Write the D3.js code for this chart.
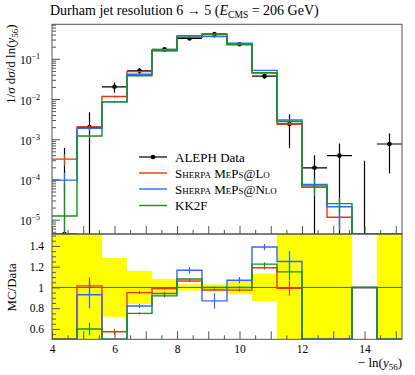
<!DOCTYPE html>
<html>
<head>
<meta charset="utf-8">
<script src="https://cdn.jsdelivr.net/npm/d3@7"></script>
<style>
  body { margin: 0; background: #fff; }
  svg text { font-family: 'Liberation Serif', 'DejaVu Serif', serif; fill: #000; }
</style>
</head>
<body>
<script>
'use strict'

const RED    = '#EE3311'
const BLUE   = '#3366FF'
const GREEN  = '#109618'
const YELLOW = '#FFFF00'
const FRAME  = '#555'

// bin edges of -ln(y56)
const binEdges = [4.0, 4.8, 5.6, 6.4, 7.2, 8.0, 8.8, 9.6, 10.4, 11.2, 12.0, 12.8, 13.6, 14.4, 15.2]

// ALEPH data
const dataVal = [1e-6, 2.0e-3, 0.0201, 0.0503, 0.171, 0.32, 0.41, 0.229, 0.037, 2.4e-3, 1.95e-4, 3.9e-4, 0, 7.6e-4]
const dataErr = [6e-4, 2.7e-3, 0.0057, 0.008, 0.0137, 0.0096, 0.012, 0.015, 0.0049, 1.8e-3, 2.05e-4, 3.9e-4, 2.9e-4, 6.2e-4]

// MC predictions
const loVal   = [3.2e-4, 2.03e-3, 0.0115, 0.0478, 0.169, 0.34, 0.40, 0.223, 0.044, 2.38e-3, 6.4e-5, 1.15e-5, 0, 0]
const loErr   = [1e-4, 1.6e-4, 6e-4, 7e-4, 2e-3, 3e-3, 4e-3, 3e-3, 6e-4, 1.7e-4, 1.5e-5, 6e-6, 0, 0]
const nloVal  = [9.6e-5, 1.86e-3, 0.0085, 0.0413, 0.161, 0.373, 0.357, 0.245, 0.0514, 3.0e-3, 7.5e-5, 2.1e-5, 0, 0]
const nloErr  = [5e-5, 2.6e-4, 5e-4, 1e-3, 3e-3, 0.01, 0.03, 0.007, 1.1e-3, 2.4e-4, 3e-5, 1.5e-5, 0, 0]
const kkVal   = [1.23e-5, 1.2e-3, 0.0085, 0.0377, 0.157, 0.346, 0.41, 0.229, 0.0453, 2.76e-3, 6.9e-5, 2.5e-5, 0, 0]
const kkErr   = [6.7e-5, 1.2e-4, 4e-4, 5e-4, 2e-3, 3e-3, 4e-3, 2e-3, 7e-4, 2e-4, 3e-5, 1e-5, 0, 0]

const legendLabels = ['ALEPH Data', 'Sherpa MePs@Lo', 'Sherpa MePs@Nlo', 'KK2F']

// axis ticks
const xMajorTicks  = [4, 5, 6, 7, 8, 9, 10, 11, 12, 13, 14, 15]
const xMinorTicks  = [4.5, 5.5, 6.5, 7.5, 8.5, 9.5, 10.5, 11.5, 12.5, 13.5, 14.5]
const xLabelTicks  = [4, 6, 8, 10, 12, 14]
const yDecades     = [1e-5, 1e-4, 1e-3, 1e-2, 1e-1]
const ratioLabels  = [0.6, 0.8, 1.0, 1.2, 1.4]
const ratioMinor   = [0.55, 0.65, 0.7, 0.75, 0.85, 0.9, 0.95, 1.05, 1.1, 1.15, 1.25, 1.3, 1.35, 1.45, 1.5]

const series = [
  { val: loVal,  err: loErr,  color: RED },
  { val: nloVal, err: nloErr, color: BLUE },
  { val: kkVal,  err: kkErr,  color: GREEN },
]

const W = 415, H = 375
const L = 52, R = 402, T = 24.3, MID = 234, B = 339.3

const svg = d3.select('body').append('svg')
  .attr('width', W).attr('height', H)
  .attr('font-family', "'Liberation Serif', serif")

const x = d3.scaleLinear().domain([4, 15.2]).range([L, R])
const yMain = d3.scaleLog().domain([4.4e-6, 0.72]).range([MID, T]).clamp(true)
const yRatio = d3.scaleLinear().domain([0.5, 1.515]).range([B, MID]).clamp(true)

const bins = dataVal.map((d, i) => ({ lo: binEdges[i], hi: binEdges[i + 1], c: (binEdges[i] + binEdges[i + 1]) / 2 }))
const yMainV = v => yMain(Math.max(v, 1e-12))

const defs = svg.append('defs')
defs.append('clipPath').attr('id', 'clipMain')
  .append('rect').attr('x', L).attr('y', T).attr('width', R - L).attr('height', MID - T)
defs.append('clipPath').attr('id', 'clipRatio')
  .append('rect').attr('x', L).attr('y', MID).attr('width', R - L).attr('height', B - MID)

// ---------- title ----------
const title = svg.append('text').attr('x', 50).attr('y', 15).style('font-size', '14px')
title.append('tspan').text('Durham jet resolution 6 \u2192 5 (')
title.append('tspan').style('font-style', 'italic').text('E')
title.append('tspan').attr('dy', 3).style('font-size', '9.5px').text('CMS')
title.append('tspan').attr('dy', -3).text(' = 206 GeV)')

// ---------- main plot ----------
const main = svg.append('g').attr('clip-path', 'url(#clipMain)')

function stepPath(vals, yf) {
  let p = ''
  vals.forEach((v, i) => {
    const yy = yf(v)
    p += (i === 0 ? 'M' : 'L') + x(bins[i].lo) + ',' + yy + 'L' + x(bins[i].hi) + ',' + yy
  })
  return p
}

// data (drawn first, MC on top)
const dataG = main.append('g')
bins.forEach((b, i) => {
  const v = dataVal[i], e = dataErr[i]
  dataG.append('line')
    .attr('x1', x(b.c)).attr('x2', x(b.c))
    .attr('y1', yMainV(v - e)).attr('y2', yMainV(v + e))
    .attr('stroke', '#000').attr('stroke-width', 1.2)
  if (v > 0) {
    dataG.append('line')
      .attr('x1', x(b.lo)).attr('x2', x(b.hi))
      .attr('y1', yMainV(v)).attr('y2', yMainV(v))
      .attr('stroke', '#000').attr('stroke-width', 1.2)
    dataG.append('circle')
      .attr('cx', x(b.c)).attr('cy', yMainV(v)).attr('r', 2.3).attr('fill', '#000')
  }
})

series.forEach(s => {
  main.append('path')
    .attr('d', stepPath(s.val, yMainV))
    .attr('fill', 'none').attr('stroke', s.color).attr('stroke-width', 1.4)
  bins.forEach((b, i) => {
    if (s.val[i] <= 0) return
    main.append('line')
      .attr('x1', x(b.c)).attr('x2', x(b.c))
      .attr('y1', yMainV(s.val[i] - s.err[i])).attr('y2', yMainV(s.val[i] + s.err[i]))
      .attr('stroke', s.color).attr('stroke-width', 1.2)
  })
})

// legend
const legend = svg.append('g')
const legY = [157, 173, 189, 205.5]
const legColors = ['#000', RED, BLUE, GREEN]
legendLabels.forEach((lab, i) => {
  legend.append('line')
    .attr('x1', 139).attr('x2', 167).attr('y1', legY[i]).attr('y2', legY[i])
    .attr('stroke', legColors[i]).attr('stroke-width', i === 0 ? 1.2 : 1.4)
  if (i === 0)
    legend.append('circle').attr('cx', 153).attr('cy', legY[i]).attr('r', 2.3).attr('fill', '#000')
  legend.append('text')
    .attr('x', 175).attr('y', legY[i] + 4.5)
    .style('font-size', '13px')
    .style('font-variant', lab.startsWith('Sherpa') ? 'small-caps' : 'normal')
    .text(lab)
})

// main axes
svg.append('g').attr('transform', `translate(${L},0)`)
  .call(d3.axisLeft(yMain).tickValues(yDecades).tickSize(-8).tickPadding(12).tickFormat(''))
  .call(g => g.select('.domain').remove())
  .call(g => g.attr('font-family', null))
  .call(g => g.selectAll('.tick line').attr('stroke', FRAME))
  .call(g => g.selectAll('.tick text').each(function (d) {
    const t = d3.select(this).style('font-size', '11.5px').attr('dy', '0.45em')
    t.append('tspan').text('10')
    t.append('tspan').attr('dy', -5).style('font-size', '8px').text('\u2212' + Math.round(-Math.log10(d)))
  }))

const yMinor = []
yDecades.concat([1]).forEach(dec => {
  for (let k = 2; k <= 9; k++) yMinor.push(dec / 10 * k)
})
svg.append('g').attr('transform', `translate(${L},0)`)
  .call(d3.axisLeft(yMain).tickValues(yMinor.filter(v => v > 4.4e-6 && v < 0.72)).tickSize(-4).tickFormat(''))
  .call(g => g.select('.domain').remove())
  .call(g => g.selectAll('.tick line').attr('stroke', FRAME))

svg.append('g').attr('transform', `translate(0,${MID})`)
  .call(d3.axisBottom(x).tickValues(xMajorTicks).tickSize(-8).tickFormat(''))
  .call(g => g.select('.domain').remove())
  .call(g => g.selectAll('.tick line').attr('stroke', FRAME))
svg.append('g').attr('transform', `translate(0,${MID})`)
  .call(d3.axisBottom(x).tickValues(xMinorTicks).tickSize(-4).tickFormat(''))
  .call(g => g.select('.domain').remove())
  .call(g => g.selectAll('.tick line').attr('stroke', FRAME))

// ---------- ratio plot ----------
const ratio = svg.append('g').attr('clip-path', 'url(#clipRatio)')

bins.forEach((b, i) => {
  if (dataVal[i] <= 0) return
  const rel = dataErr[i] / dataVal[i]
  ratio.append('rect')
    .attr('x', x(b.lo)).attr('width', x(b.hi) - x(b.lo))
    .attr('y', yRatio(1 + rel)).attr('height', yRatio(1 - rel) - yRatio(1 + rel))
    .attr('fill', YELLOW)
})

ratio.append('line')
  .attr('x1', L).attr('x2', R).attr('y1', yRatio(1)).attr('y2', yRatio(1))
  .attr('stroke', '#333').attr('stroke-width', 0.8)

// ratio only where the data point is visible; 0/0 counts as 1
function ratioOf(v, i) {
  const d = dataVal[i]
  if (d === 0) return v === 0 ? 1 : 0
  if (d < yMain.domain()[0]) return 0
  return v / d
}

series.forEach(s => {
  const rv = s.val.map(ratioOf)
  ratio.append('path')
    .attr('d', stepPath(rv, v => yRatio(v)))
    .attr('fill', 'none').attr('stroke', s.color).attr('stroke-width', 1.4)
  bins.forEach((b, i) => {
    if (s.val[i] <= 0 || dataVal[i] < yMain.domain()[0]) return
    const r = rv[i], e = s.err[i] / dataVal[i]
    if (r < 0.5 || r > 1.5) return
    ratio.append('line')
      .attr('x1', x(b.c)).attr('x2', x(b.c))
      .attr('y1', yRatio(r - e)).attr('y2', yRatio(r + e))
      .attr('stroke', s.color).attr('stroke-width', 1.2)
  })
})

svg.append('g').attr('transform', `translate(${L},0)`)
  .call(d3.axisLeft(yRatio).tickValues(ratioLabels).tickSize(-8).tickPadding(8).tickFormat(d3.format('~g')))
  .call(g => g.select('.domain').remove())
  .call(g => g.attr('font-family', null))
  .call(g => g.selectAll('.tick line').attr('stroke', FRAME))
  .call(g => g.selectAll('.tick text').style('font-size', '11.5px'))
svg.append('g').attr('transform', `translate(${L},0)`)
  .call(d3.axisLeft(yRatio).tickValues(ratioMinor).tickSize(-4).tickFormat(''))
  .call(g => g.select('.domain').remove())
  .call(g => g.selectAll('.tick line').attr('stroke', FRAME))

svg.append('g').attr('transform', `translate(0,${B})`)
  .call(d3.axisBottom(x).tickValues(xMajorTicks).tickSize(-8).tickPadding(6)
    .tickFormat(d => xLabelTicks.includes(d) ? d : ''))
  .call(g => g.select('.domain').remove())
  .call(g => g.attr('font-family', null))
  .call(g => g.selectAll('.tick line').attr('stroke', FRAME))
  .call(g => g.selectAll('.tick text').style('font-size', '11.5px'))
svg.append('g').attr('transform', `translate(0,${B})`)
  .call(d3.axisBottom(x).tickValues(xMinorTicks).tickSize(-4).tickFormat(''))
  .call(g => g.select('.domain').remove())
  .call(g => g.selectAll('.tick line').attr('stroke', FRAME))

// frames
svg.append('rect').attr('x', L).attr('y', T).attr('width', R - L).attr('height', MID - T)
  .attr('fill', 'none').attr('stroke', FRAME).attr('stroke-width', 1)
svg.append('rect').attr('x', L).attr('y', MID).attr('width', R - L).attr('height', B - MID)
  .attr('fill', 'none').attr('stroke', FRAME).attr('stroke-width', 1)

// ---------- axis labels ----------
const yl = svg.append('text').attr('transform', `translate(15,${T}) rotate(-90)`)
  .attr('text-anchor', 'end').style('font-size', '13px')
yl.append('tspan').text('1/')
yl.append('tspan').style('font-style', 'italic').text('\u03c3')
yl.append('tspan').text(' d')
yl.append('tspan').style('font-style', 'italic').text('\u03c3')
yl.append('tspan').text('/d ln(')
yl.append('tspan').style('font-style', 'italic').text('y')
yl.append('tspan').attr('dy', 3).style('font-size', '9px').text('56')
yl.append('tspan').attr('dy', -3).text(')')

svg.append('text').attr('transform', `translate(16,${yRatio(1)}) rotate(-90)`)
  .attr('text-anchor', 'middle').style('font-size', '13px').text('MC/Data')

const xl = svg.append('text').attr('x', R).attr('y', 367)
  .attr('text-anchor', 'end').style('font-size', '13px')
xl.append('tspan').text('\u2212 ln(')
xl.append('tspan').style('font-style', 'italic').text('y')
xl.append('tspan').attr('dy', 3).style('font-size', '9px').text('56')
xl.append('tspan').attr('dy', -3).text(')')
</script>
</body>
</html>
